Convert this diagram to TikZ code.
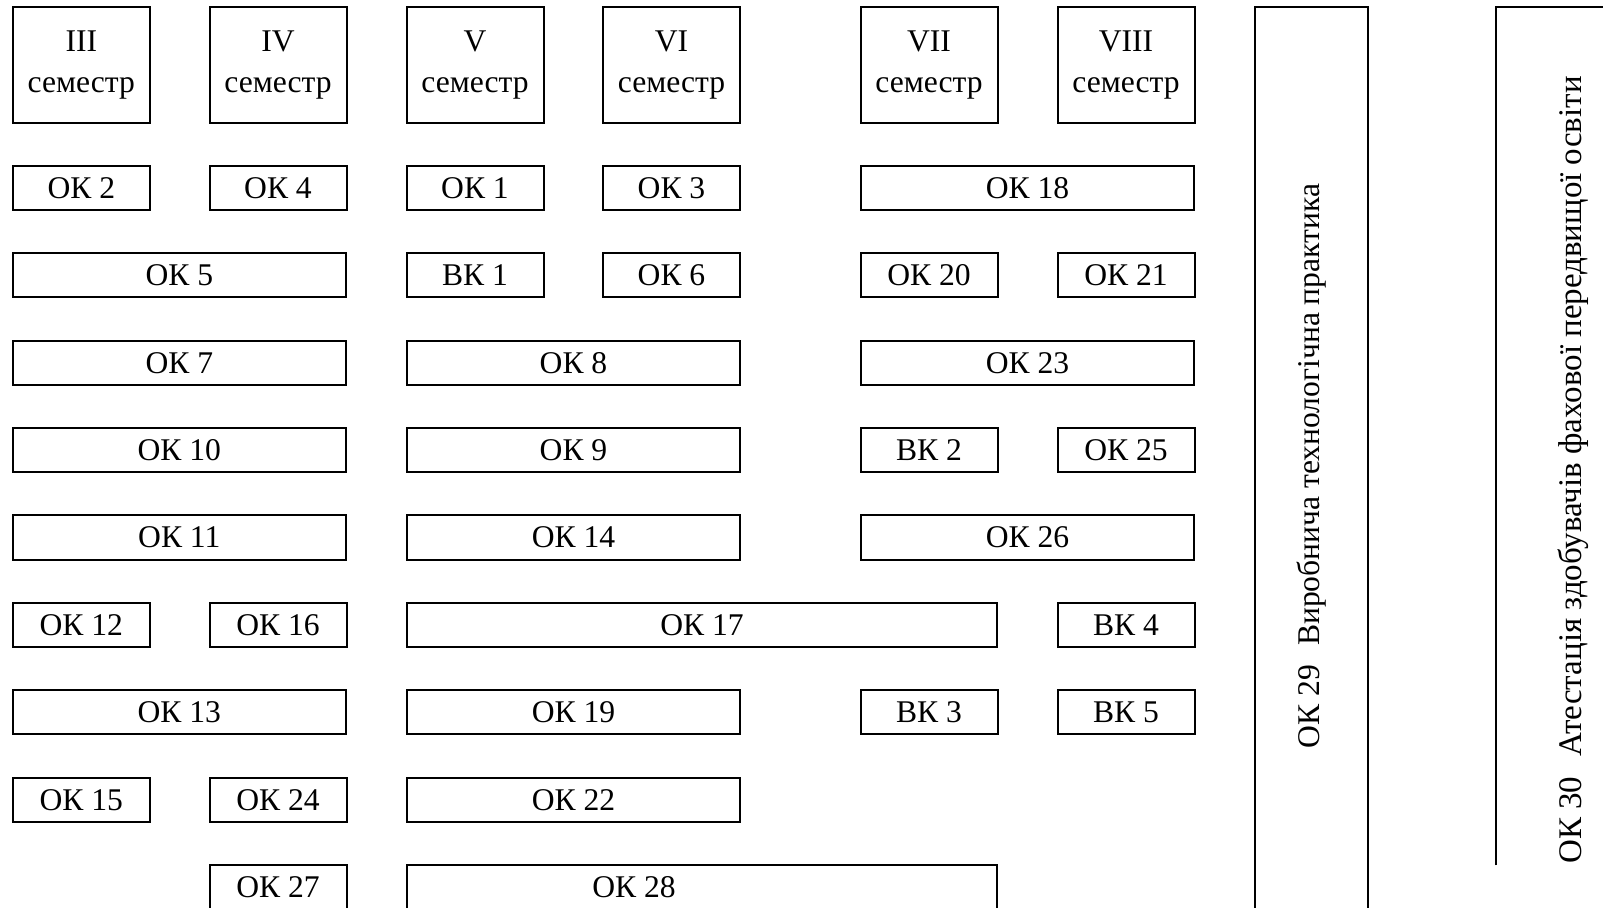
\documentclass[tikz,border=0pt]{standalone}
\usepackage{fontspec}
\setmainfont{Liberation Serif}

\tikzset{
    course/.style={draw, line width=1pt, inner sep=0pt, minimum height=22.15pt,
        font=\fontsize{15.8}{18}\selectfont},
    narrow/.style={course, minimum width=68.5pt},
    wide/.style={course, minimum width=166.6pt},
    sem/.style={course, minimum width=68.5pt, minimum height=57.7pt, align=center,
        font=\fontsize{15.8}{20.8}\selectfont},
    vtext/.style={rotate=90, inner sep=0pt, font=\fontsize{15.8}{18}\selectfont}
}

\begin{document}
\begin{tikzpicture}[x=0.5pt, y=-0.5pt]
        \useasboundingbox (0,0) rectangle (1603,908);
        \clip (0,0) rectangle (1603,908);

        % semesters
        \node[sem] (s3) at (81.3, 65) {III\\семестр};
        \node[sem] (s4) at (278, 65) {IV\\семестр};
        \node[sem] (s5) at (475, 65) {V\\семестр};
        \node[sem] (s6) at (671.5, 65) {VI\\семестр};
        \node[sem] (s7) at (929, 65) {VII\\семестр};
        \node[sem] (s8) at (1126, 65) {VIII\\семестр};

        % III--IV
        \node[narrow] (ok2) at (81.3, 187.9) {ОК 2};
        \node[narrow] (ok4) at (278, 187.9) {ОК 4};
        \node[wide] (ok5) at (179.3, 275.3) {ОК 5};
        \node[wide] (ok7) at (179.3, 362.7) {ОК 7};
        \node[wide] (ok10) at (179.3, 450.1) {ОК 10};
        \node[wide] (ok11) at (179.3, 537.5) {ОК 11};
        \node[narrow] (ok12) at (81.3, 624.9) {ОК 12};
        \node[narrow] (ok16) at (278, 624.9) {ОК 16};
        \node[wide] (ok13) at (179.3, 712.3) {ОК 13};
        \node[narrow] (ok15) at (81.3, 799.7) {ОК 15};
        \node[narrow] (ok24) at (278, 799.7) {ОК 24};
        \node[narrow] (ok27) at (278, 887.1) {ОК 27};

        % V--VI
        \node[narrow] (ok1) at (475, 187.9) {ОК 1};
        \node[narrow] (ok3) at (671.5, 187.9) {ОК 3};
        \node[narrow] (vk1) at (475, 275.3) {ВК 1};
        \node[narrow] (ok6) at (671.5, 275.3) {ОК 6};
        \node[wide] (ok8) at (573.5, 362.7) {ОК 8};
        \node[wide] (ok9) at (573.5, 450.1) {ОК 9};
        \node[wide] (ok14) at (573.5, 537.5) {ОК 14};
        \node[course, minimum width=295pt] (ok17) at (702, 624.9) {ОК 17};
        \node[wide] (ok19) at (573.5, 712.3) {ОК 19};
        \node[wide] (ok22) at (573.5, 799.7) {ОК 22};
        \node[course, minimum width=295pt] (ok28) at (702, 887.1) {};
        \node[font=\fontsize{15.8}{18}\selectfont, inner sep=0pt] (ok28text) at ([xshift=-34pt]ok28.center) {ОК 28};

        % VII--VIII
        \node[wide] (ok18) at (1027.5, 187.9) {ОК 18};
        \node[narrow] (ok20) at (929, 275.3) {ОК 20};
        \node[narrow] (ok21) at (1126, 275.3) {ОК 21};
        \node[wide] (ok23) at (1027.5, 362.7) {ОК 23};
        \node[narrow] (vk2) at (929, 450.1) {ВК 2};
        \node[narrow] (ok25) at (1126, 450.1) {ОК 25};
        \node[wide] (ok26) at (1027.5, 537.5) {ОК 26};
        \node[narrow] (vk4) at (1126, 624.9) {ВК 4};
        \node[narrow] (vk3) at (929, 712.3) {ВК 3};
        \node[narrow] (vk5) at (1126, 712.3) {ВК 5};

        % practice and attestation
        \node[course, minimum width=56.5pt, minimum height=471.4pt] (ok29) at (1311.2, 478.6) {};
        \node[vtext] (ok29text) at (1311.2, 466) {ОК 29\hspace{0.6em}Виробнича технологічна практика};

        \node[inner sep=0pt, minimum width=80pt, minimum height=428.85pt] (ok30) at (1576, 436.15) {};
        \draw[line width=1pt] (ok30.south west) -- (ok30.north west) -- (ok30.north east);
        \node[vtext, font=\fontsize{16.5}{18}\selectfont] (ok30text) at (1573, 470) {ОК 30\hspace{0.6em}Атестація здобувачів фахової передвищої освіти};
    \end{tikzpicture}
\end{document}
